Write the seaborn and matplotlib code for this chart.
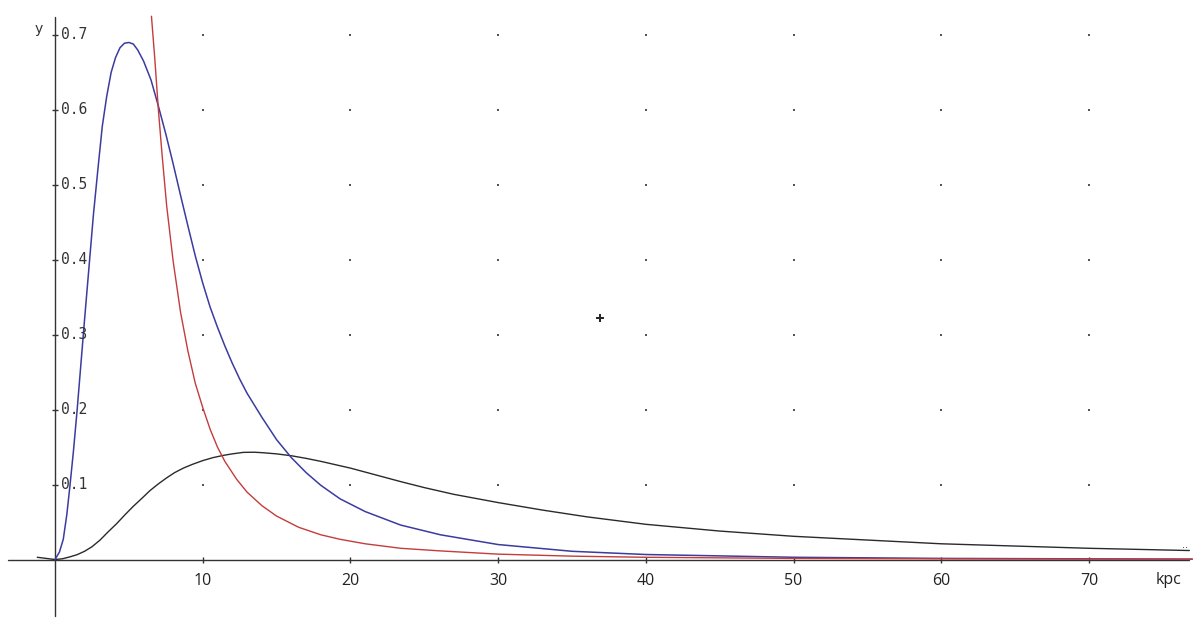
import numpy as np
import pandas as pd
import seaborn as sns
import matplotlib.pyplot as plt

# values (x in kpc)
blue_x = [0, 0.3, 0.56, 0.8, 1.02, 1.25, 1.5, 1.75, 2.0, 2.3, 2.6, 2.9, 3.2, 3.5, 3.8, 4.1,
          4.4, 4.7, 5.0, 5.3, 5.6, 6.0, 6.5, 7.0, 7.5, 8.0, 8.5, 9.0, 9.5, 10.0, 10.5, 11.0,
          11.5, 12.0, 12.5, 13.0, 14.0, 15.0, 16.0, 17.0, 18.0, 19.3, 21.0, 23.4, 26.1, 30,
          35, 40, 50, 60, 77]
blue_y = [0, 0.01, 0.027, 0.06, 0.10, 0.145, 0.20, 0.26, 0.32, 0.39, 0.46, 0.52, 0.578,
          0.618, 0.650, 0.670, 0.683, 0.689, 0.690, 0.688, 0.680, 0.665, 0.640, 0.605, 0.568,
          0.528, 0.486, 0.445, 0.405, 0.369, 0.337, 0.310, 0.285, 0.262, 0.241, 0.222, 0.190,
          0.160, 0.136, 0.116, 0.099, 0.081, 0.064, 0.046, 0.033, 0.020, 0.011, 0.0067,
          0.003, 0.0015, 0.0005]

red_x = [6.53, 6.75, 7.0, 7.25, 7.56, 8.0, 8.5, 9.0, 9.5, 10.0, 10.5, 11.0, 11.5, 12.3, 13.0,
         14.0, 15.0, 16.5, 18.0, 19.3, 21.0, 23.4, 26.1, 30, 35, 40, 50, 60, 77]
red_y = [0.725, 0.67, 0.60, 0.54, 0.472, 0.398, 0.330, 0.278, 0.235, 0.203, 0.174, 0.150,
         0.131, 0.107, 0.090, 0.072, 0.058, 0.043, 0.033, 0.027, 0.021, 0.015, 0.0115,
         0.0072, 0.0045, 0.003, 0.0015, 0.0009, 0.0004]

black_x = [-1.2, -0.6, 0, 0.5, 1.0, 1.5, 2.0, 2.5, 3.05, 3.6, 4.18, 4.75, 5.3, 5.9, 6.43, 7.0,
           7.56, 8.1, 8.69, 9.3, 10.0, 10.7, 11.4, 12.0, 12.75, 13.5, 14.1, 15.0, 16.0, 17.0,
           18.0, 19.0, 20.0, 21.7, 23.4, 25.0, 27.0, 30, 33, 36, 40, 45, 50, 55, 60, 65, 70,
           76.8]
black_y = [0.003, 0.0015, 0, 0.001, 0.0035, 0.0065, 0.011, 0.017, 0.026, 0.037, 0.048, 0.060,
           0.071, 0.082, 0.092, 0.101, 0.109, 0.116, 0.122, 0.127, 0.132, 0.136, 0.139, 0.141,
           0.143, 0.1432, 0.1425, 0.141, 0.1385, 0.135, 0.131, 0.1265, 0.122, 0.113, 0.104,
           0.096, 0.087, 0.076, 0.066, 0.057, 0.047, 0.038, 0.031, 0.026, 0.021, 0.018, 0.015,
           0.012]

x_ticks = [10, 20, 30, 40, 50, 60, 70]
y_ticks = [0.1, 0.2, 0.3, 0.4, 0.5, 0.6, 0.7]
y_labels = ["0.1", "0.2", "0.3", "0.4", "0.5", "0.6", "0.7"]

sns.set_style("white")
plt.rcParams['font.family'] = ['DejaVu Sans']

fig = plt.figure(figsize=(12, 6.2), dpi=100)
ax = fig.add_axes([0, 0, 1, 1])
ax.set_xlim(-3.724, 77.52)
ax.set_ylim(-0.0807, 0.7467)
ax.axis("off")

# grid dots
gx, gy = np.meshgrid(x_ticks, y_ticks)
ax.scatter(gx.ravel(), gy.ravel(), s=1.5, marker="s", color="#555555", linewidths=0)

# axes lines
ax.plot([-3.16, 76.8], [0, 0], color="#333333", lw=1.0)
ax.plot([0, 0], [-0.0756, 0.724], color="#333333", lw=1.0)
ax.plot(x_ticks, [0] * len(x_ticks), ls="none", marker="|", ms=4.5, mew=1.0, color="#333333")
ax.plot([0] * len(y_ticks), y_ticks, ls="none", marker="_", ms=4.5, mew=1.0, color="#333333")

for t in x_ticks:
    ax.text(t, -0.029, str(t), ha="center", va="center", fontsize=11.5,
            family="Open Sans", color="#222222")
for t, lab in zip(y_ticks, y_labels):
    ax.text(0.38, t, lab, ha="left", va="center", fontsize=10.5,
            family="DejaVu Sans Mono", color="#333333")

ax.text(-1.08, 0.708, "y", ha="center", va="center", fontsize=10, color="#333333")
ax.text(75.4, -0.027, "kpc", ha="center", va="center", fontsize=11.5,
        family="Open Sans", color="#222222")

# curves
black = pd.DataFrame({"x": black_x, "y": black_y})
blue = pd.DataFrame({"x": blue_x, "y": blue_y})
red = pd.DataFrame({"x": red_x, "y": red_y})
sns.lineplot(data=black, x="x", y="y", ax=ax, color="#2a2a2a", lw=1.0, estimator=None, sort=False)
sns.lineplot(data=blue, x="x", y="y", ax=ax, color="#3b3ba0", lw=1.1, estimator=None, sort=False)
sns.lineplot(data=red, x="x", y="y", ax=ax, color="#c43c3c", lw=1.0, estimator=None, sort=False)

# cursor mark and end dots
ax.plot([36.9], [0.3227], marker="+", ms=6, mew=1.4, color="#222222")
ax.text(76.5, 0.0195, "..", ha="center", va="center", fontsize=7, color="#333333")

fig.savefig("out.png", dpi=100)
